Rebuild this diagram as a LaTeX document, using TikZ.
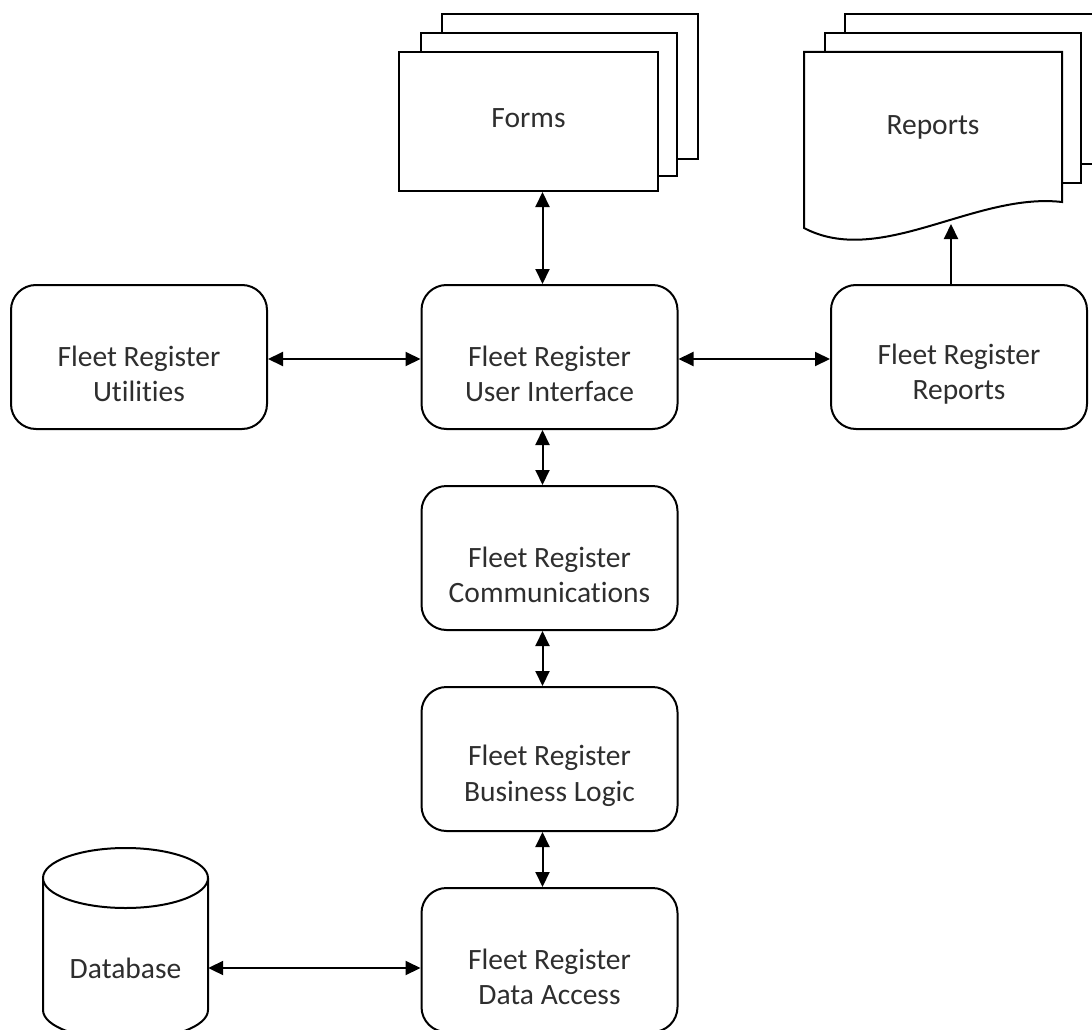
\documentclass[tikz,border=0pt]{standalone}
\usepackage{fontspec}
\setmainfont{Carlito}[Ligatures={NoCommon}]
\usetikzlibrary{arrows.meta,calc}
\definecolor{txt}{HTML}{2E2E2E}
\begin{document}
\begin{tikzpicture}[x=1pt,y=-1pt,
  ln/.style={line width=2pt},
  page/.style={draw,line width=2pt,fill=white},
  box/.style={draw,line width=2pt,rounded corners=25pt,minimum width=256pt,minimum height=144pt,inner sep=0pt},
  lbl/.style={align=center,text=txt,font=\fontsize{29.5}{35.5}\selectfont,inner sep=0pt},
  arr/.style={line width=2pt,{Triangle[length=15pt,width=14pt]}-{Triangle[length=15pt,width=14pt]}},
  arrs/.style={line width=2pt,-{Triangle[length=15pt,width=14pt]}}]
\useasboundingbox (0,0) rectangle (1092,1030);
\clip (0,0) rectangle (1092,1030);
\coordinate (vx) at (542.5,0);

% Forms stack
\draw[page] (442,14) rectangle (698,159);
\draw[page] (421,33) rectangle (677,176);
\node[page,minimum width=259pt,minimum height=139pt] (forms) at (528.5,121.5) {};
\node[lbl] (forms-t) at ([yshift=3pt]forms.center) {Forms};

% Reports stack
\draw[page] (845,14) rectangle (1103,164);
\draw[page] (825,33) rectangle (1081,183);
\draw[page] (804,52) -- (1062,52) -- (1062,202)
  .. controls (975,192) and (880,268) .. (804,228) -- cycle;
\node[lbl,minimum width=258pt,minimum height=150pt] (repdoc) at (933,127) {Reports};
\coordinate (wavept) at (951,224);

% Boxes
\node[box] (util) at (139,357) {};
\node[lbl] (util-t) at ([yshift=-17pt]util.center) {Fleet Register\\Utilities};
\node[box] (ui) at (549.5,357) {};
\node[lbl] (ui-t) at ([yshift=-17pt]ui.center) {Fleet Register\\User Interface};
\node[box] (rep) at (959,357) {};
\node[lbl] (rep-t) at ([yshift=-17pt]rep.center) {Fleet Register\\Reports};
\node[box] (comm) at (549.5,558) {};
\node[lbl] (comm-t) at ([yshift=-17pt]comm.center) {Fleet Register\\Communications};
\node[box] (bl) at (549.5,759) {};
\node[lbl] (bl-t) at ([yshift=-17pt]bl.center) {Fleet Register\\Business Logic};
\node[box] (da) at (549.5,960) {};
\node[lbl] (da-t) at ([yshift=-17pt]da.center) {Fleet Register\\Data Access};

% Database cylinder
\draw[page] (43,878) -- (43,1010) arc[start angle=180,end angle=360,x radius=82.5pt,y radius=30pt] -- (208,878);
\draw[page] (125.5,878) ellipse[x radius=82.5pt,y radius=30pt];
\node[lbl,minimum width=165pt,minimum height=120pt] (db) at (125.5,968) {Database};

% Connectors
\draw[arr] (forms.south -| vx) -- (ui.north -| vx);
\draw[arr] ([yshift=-2pt]util.east) -- ([yshift=-2pt]ui.west);
\draw[arr] ([yshift=-2pt]ui.east) -- ([yshift=-2pt]rep.west);
\draw[arrs] (rep.north -| wavept) -- (wavept);
\draw[arr] (ui.south -| vx) -- (comm.north -| vx);
\draw[arr] (comm.south -| vx) -- (bl.north -| vx);
\draw[arr] (bl.south -| vx) -- (da.north -| vx);
\draw[arr] (db.east) -- (da.west |- db.east);
\end{tikzpicture}
\end{document}
